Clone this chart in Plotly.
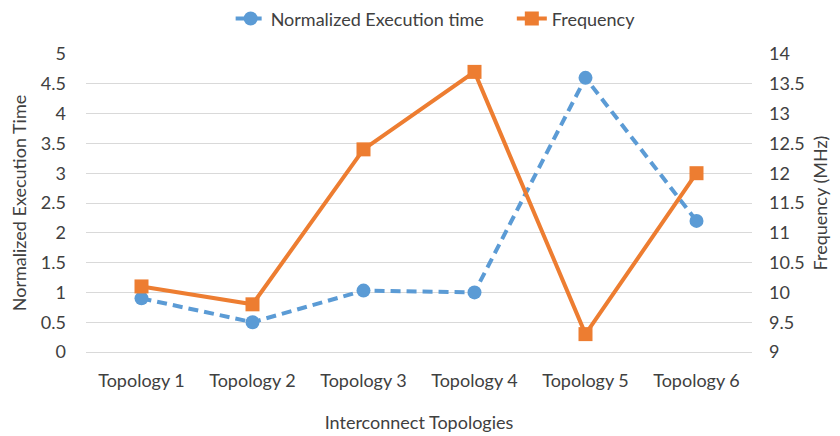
import plotly.graph_objects as go

categories = ["Topology 1", "Topology 2", "Topology 3", "Topology 4", "Topology 5", "Topology 6"]
exec_time = [0.9, 0.5, 1.03, 1.0, 4.6, 2.2]
frequency = [10.1, 9.8, 12.4, 13.7, 9.3, 12.0]
left_ticks = [0, 0.5, 1, 1.5, 2, 2.5, 3, 3.5, 4, 4.5, 5]
right_ticks = [9, 9.5, 10, 10.5, 11, 11.5, 12, 12.5, 13, 13.5, 14]

BLUE = "#5B9BD5"
ORANGE = "#ED7D31"
FONT = "Lato"
TXT = "#404040"
FS = 18
NB = "\u00a0"

fig = go.Figure()
fig.add_trace(go.Scatter(
    x=categories, y=exec_time, name="Normalized Execution time" + NB * 5,
    mode="lines+markers",
    line=dict(color=BLUE, width=4, dash="10px,6px"),
    marker=dict(symbol="circle", size=14, color=BLUE),
    yaxis="y"))
fig.add_trace(go.Scatter(
    x=categories, y=frequency, name="Frequency",
    mode="lines+markers",
    line=dict(color=ORANGE, width=4),
    marker=dict(symbol="square", size=14, color=ORANGE),
    yaxis="y2"))

# page body has an 8px margin (top/left), so the figure is shrunk by 8px
fig.update_layout(
    width=832, height=428,
    margin=dict(l=78, r=88, t=46, b=84, autoexpand=False),
    paper_bgcolor="white", plot_bgcolor="white",
    font=dict(family=FONT, size=FS, color=TXT),
    showlegend=True,
    legend=dict(orientation="h", x=0.525, xanchor="center", y=1.118, yanchor="middle",
                yref="paper", font=dict(size=FS, color=TXT)),
    xaxis=dict(
        title=dict(text="Interconnect Topologies", font=dict(size=FS, color=TXT), standoff=26),
        range=[-0.5, 5.5],
        showgrid=False, showline=True, linecolor="#D9D9D9", linewidth=1,
        ticks="", tickfont=dict(size=FS, color=TXT), ticklabelstandoff=12, automargin=False),
    yaxis=dict(
        title=dict(text="Normalized Execution Time", font=dict(size=FS, color=TXT), standoff=15),
        range=[0, 5], tickvals=left_ticks, ticktext=[f"{v:g}" for v in left_ticks],
        showgrid=True, gridcolor="#D9D9D9", gridwidth=1.3, zeroline=False,
        showline=False, ticks="", tickfont=dict(size=FS, color=TXT),
        ticklabelstandoff=19, automargin=False),
    yaxis2=dict(
        title=dict(text="Frequency (MHz)", font=dict(size=FS, color=TXT), standoff=10),
        range=[9, 14], tickvals=right_ticks, ticktext=[f"{v:g}" for v in right_ticks],
        overlaying="y", side="right", showgrid=False, zeroline=False,
        showline=False, ticks="", tickfont=dict(size=FS, color=TXT),
        ticklabelstandoff=16, automargin=False),
)

fig.write_html("out.html")
